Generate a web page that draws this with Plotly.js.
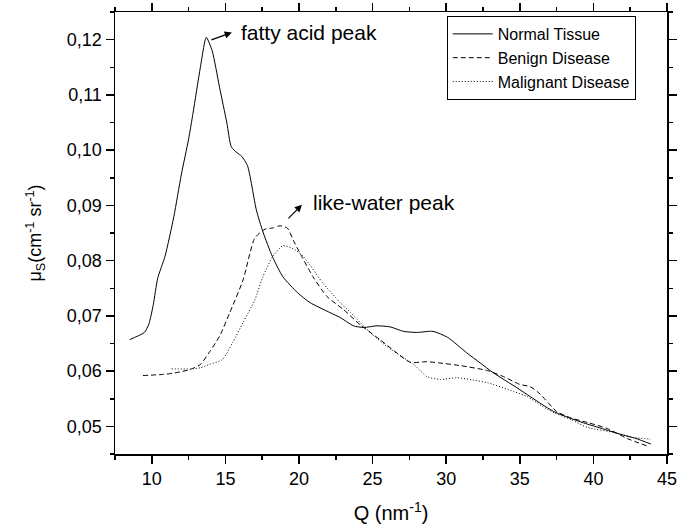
<!DOCTYPE html>
<html>
<head>
<meta charset="utf-8">
<script src="https://cdn.plot.ly/plotly-3.0.1.min.js"></script>
<style>html,body{margin:0;padding:0;background:#fff;}#chart{width:677px;height:528px;}</style>
</head>
<body>
<div id="chart"></div>
<script>
const seriesNames = ["Normal Tissue", "Benign Disease", "Malignant Disease"];

const normalQ = [8.5, 9.0, 9.5, 9.8, 10.1, 10.4, 10.9, 11.5, 12.0, 12.5, 12.8, 13.3, 13.7, 14.1, 14.6, 15.1, 15.4, 15.8, 16.1, 16.5, 17.1, 17.55, 18.2, 18.9, 19.9, 20.75, 22.1, 22.8, 23.7, 24.4, 25.3, 26.2, 27.1, 28.0, 29.1, 30.1, 31.4, 32.3, 33.2, 34.8, 35.7, 36.5, 37.3, 38.3, 39.6, 40.6, 41.8, 42.9, 43.9];
const normalMu = [0.0657, 0.0663, 0.0670, 0.0685, 0.0720, 0.0768, 0.0808, 0.0880, 0.0955, 0.1020, 0.1067, 0.1150, 0.1204, 0.1180, 0.1114, 0.1049, 0.1006, 0.0995, 0.0989, 0.0972, 0.0892, 0.0852, 0.0807, 0.0771, 0.0742, 0.0724, 0.0706, 0.0697, 0.0682, 0.0679, 0.0682, 0.0680, 0.0672, 0.0670, 0.0672, 0.0661, 0.0633, 0.0615, 0.0597, 0.0570, 0.0554, 0.0540, 0.0527, 0.0516, 0.0504, 0.0496, 0.0486, 0.0478, 0.0468];

const benignQ = [9.4, 10.75, 11.4, 12.0, 12.6, 13.3, 13.9, 14.6, 15.3, 16.2, 17.0, 17.7, 18.2, 18.7, 19.2, 19.7, 20.2, 20.95, 21.9, 23.0, 24.15, 25.5, 26.5, 27.55, 28.7, 29.8, 30.95, 32.8, 33.9, 35.0, 35.7, 36.4, 37.5, 38.5, 39.6, 40.95, 42.3, 43.7];
const benignMu = [0.0592, 0.0594, 0.0596, 0.0599, 0.0603, 0.0612, 0.0634, 0.0663, 0.0706, 0.0765, 0.0841, 0.0857, 0.0859, 0.0863, 0.0859, 0.0832, 0.0807, 0.0771, 0.0735, 0.0712, 0.0684, 0.0657, 0.0636, 0.0616, 0.0617, 0.0614, 0.0610, 0.0601, 0.0590, 0.0576, 0.0572, 0.0558, 0.0527, 0.0515, 0.0507, 0.0496, 0.0478, 0.0464];

const malignantQ = [11.35, 12.6, 13.3, 13.9, 14.8, 15.5, 16.2, 17.0, 17.55, 18.2, 18.9, 19.5, 20.2, 20.75, 21.6, 22.8, 23.5, 24.15, 25.0, 26.0, 27.0, 27.8, 28.7, 29.6, 30.7, 31.8, 32.8, 34.6, 35.5, 36.5, 37.3, 38.5, 39.6, 41.4, 42.7, 43.9];
const malignantMu = [0.0604, 0.0604, 0.0606, 0.0612, 0.0621, 0.0652, 0.0688, 0.0729, 0.0771, 0.0807, 0.0827, 0.0823, 0.0810, 0.0792, 0.0760, 0.0724, 0.0706, 0.0688, 0.0666, 0.0644, 0.0626, 0.0612, 0.0590, 0.0585, 0.0588, 0.0584, 0.0579, 0.0563, 0.0554, 0.0537, 0.0525, 0.0512, 0.0498, 0.0489, 0.0480, 0.0477];

const annotationTexts = ["fatty acid peak", "like-water peak"];

const FONT = "Liberation Sans, Arial, sans-serif";

const traces = [
  {x: normalQ, y: normalMu, name: seriesNames[0], mode: "lines",
   line: {color: "#000", width: 1, dash: "solid", shape: "spline", smoothing: 0.6}},
  {x: benignQ, y: benignMu, name: seriesNames[1], mode: "lines",
   line: {color: "#000", width: 1, dash: "5px,3px", shape: "spline", smoothing: 0.6}},
  {x: malignantQ, y: malignantMu, name: seriesNames[2], mode: "lines",
   line: {color: "#000", width: 1, dash: "1px,2px", shape: "spline", smoothing: 0.6}}
];

const axisCommon = {
  showline: true, linecolor: "#000", linewidth: 1.5, mirror: "allticks",
  ticks: "outside", ticklen: 8, tickwidth: 1.5, tickcolor: "#000",
  showgrid: false, zeroline: false, ticklabeloverflow: "allow",
  tickfont: {family: FONT, size: 18, color: "#000"}
};

const layout = {
  width: 677, height: 528,
  margin: {l: 115, r: 10, t: 12, b: 74},
  paper_bgcolor: "#fff", plot_bgcolor: "#fff",
  separators: ",.",
  showlegend: true,
  legend: {
    x: 0.601, y: 0.991, xanchor: "left", yanchor: "top",
    bgcolor: "#fff", bordercolor: "#000", borderwidth: 1,
    font: {family: FONT, size: 16, color: "#000"},
    tracegroupgap: 0, itemwidth: 40
  },
  xaxis: Object.assign({}, axisCommon, {
    range: [7.5, 45], tickmode: "linear", tick0: 10, dtick: 5,
    minor: {tickmode: "linear", tick0: 7.5, dtick: 2.5, ticks: "outside", ticklen: 4, tickwidth: 1.5, tickcolor: "#000"},
    title: {text: "Q (nm<sup>-1</sup>)", font: {family: FONT, size: 20, color: "#000"}, standoff: 18}
  }),
  yaxis: Object.assign({}, axisCommon, {
    range: [0.045, 0.125], tickmode: "linear", tick0: 0.05, dtick: 0.01, tickformat: ".2f",
    minor: {tickmode: "linear", tick0: 0.045, dtick: 0.005, ticks: "outside", ticklen: 4, tickwidth: 1.5, tickcolor: "#000"},
    title: {text: "μ<sub>S</sub>(cm<sup>-1</sup> sr<sup>-1</sup>)", font: {family: FONT, size: 18, color: "#000"}, standoff: 20}
  }),
  annotations: [
    {x: 15.92, y: 0.1213, xref: "x", yref: "y", text: annotationTexts[0], showarrow: false,
     xanchor: "left", yanchor: "middle", font: {family: FONT, size: 21, color: "#000"}},
    {x: 15.44, y: 0.1213, xref: "x", yref: "y", text: "", showarrow: true,
     ax: -22, ay: 8, arrowhead: 2, arrowsize: 1.2, arrowwidth: 1.2, arrowcolor: "#000"},
    {x: 20.82, y: 0.0906, xref: "x", yref: "y", text: annotationTexts[1], showarrow: false,
     xanchor: "left", yanchor: "middle", font: {family: FONT, size: 21, color: "#000"}},
    {x: 20.2, y: 0.0901, xref: "x", yref: "y", text: "", showarrow: true,
     ax: -15, ay: 15, arrowhead: 2, arrowsize: 1.2, arrowwidth: 1.2, arrowcolor: "#000"}
  ]
};

Plotly.newPlot("chart", traces, layout, {displayModeBar: false, staticPlot: true});
</script>
</body>
</html>
